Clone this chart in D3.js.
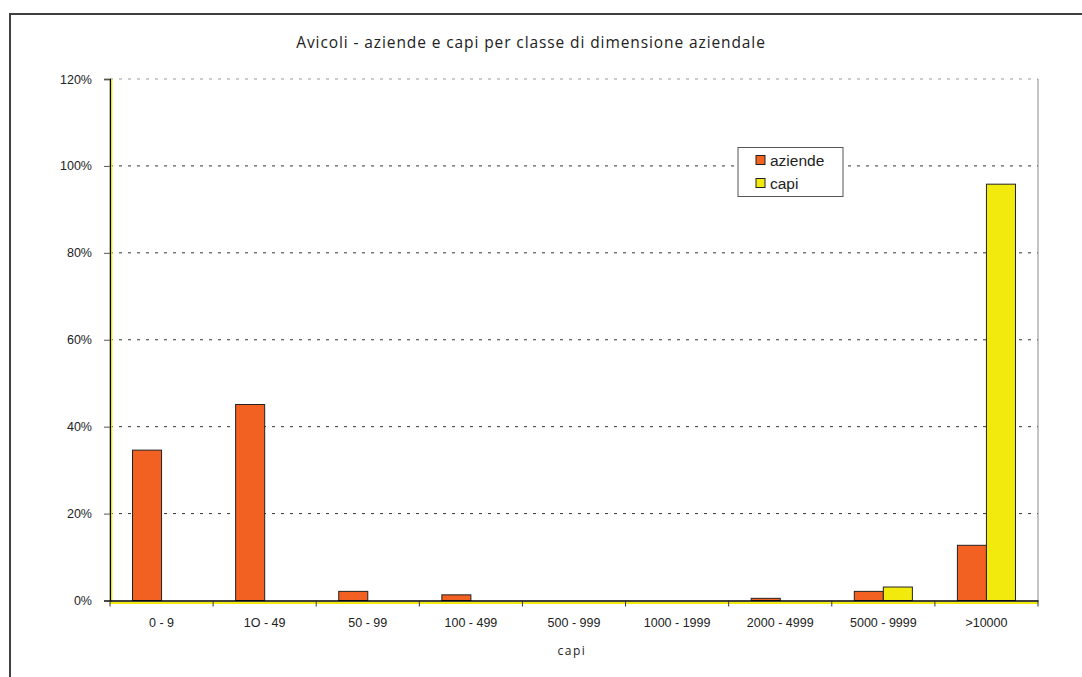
<!DOCTYPE html>
<html><head><meta charset="utf-8">
<script src="https://cdn.jsdelivr.net/npm/d3@7"></script>
<style>body{margin:0;background:#fff}svg{display:block}</style>
</head><body>
<svg id="c" width="1082" height="677"></svg>
<script>
const categories = ["0 - 9","1O - 49","50 - 99","100 - 499","500 - 999","1000 - 1999","2000 - 4999","5000 - 9999",">10000"];
const aziende = [34.6, 45.1, 2.1, 1.3, 0, 0, 0.5, 2.1, 12.7];
const capi = [0, 0, 0, 0, 0, 0, 0, 3.1, 95.8];
const seriesNames = ["aziende","capi"];
const yTicks = [0,20,40,60,80,100,120];
const colors = ["#F26122","#F2EA0C"];

const svg = d3.select("#c");
const L = 110, R = 1038, T = 79, B = 600.5;

// outer frame
svg.append("rect").attr("x",10).attr("y",14).attr("width",1090).attr("height",700)
  .attr("fill","none").attr("stroke","#404040").attr("stroke-width",2);

const x = d3.scaleBand().domain(categories).range([L,R]).paddingInner(0).paddingOuter(0);
const y = d3.scaleLinear().domain([0,120]).range([B,T]);

// gridlines
svg.append("g").selectAll("line").data(yTicks.filter(d=>d>0)).join("line")
  .attr("x1",L).attr("x2",R).attr("y1",d=>y(d)).attr("y2",d=>y(d))
  .attr("stroke",d=>d===120?"#999":"#333").attr("stroke-width",1)
  .attr("stroke-dasharray","3,6");

// right border
svg.append("line").attr("x1",R).attr("x2",R).attr("y1",T).attr("y2",B)
  .attr("stroke","#888").attr("stroke-width",1);

// bars
const bw = x.bandwidth();
const barW = bw/3.55;
const off = (bw - 2*barW)/2;
const data = categories.map((c,i)=>({c, vals:[aziende[i],capi[i]]}));
const g = svg.append("g");
data.forEach(d=>{
  d.vals.forEach((v,j)=>{
    if (v<=0) return;
    g.append("rect")
      .attr("x", x(d.c)+off+j*barW)
      .attr("y", y(v))
      .attr("width", barW)
      .attr("height", B - y(v))
      .attr("fill", colors[j])
      .attr("stroke","#222").attr("stroke-width",1);
  });
});

// y axis
const yAxis = d3.axisLeft(y).tickValues(yTicks).tickFormat(d=>d+"%").tickSize(6).tickPadding(12);
const ya = svg.append("g").attr("transform",`translate(${L},0)`).call(yAxis);
ya.select(".domain").attr("stroke","#000").attr("stroke-width",1.5);
ya.selectAll(".tick line").attr("stroke","#555");
ya.selectAll("text").attr("font-family","Liberation Sans, Arial, sans-serif").attr("font-size",12.5).attr("fill","#222");
svg.append("line").attr("x1",L+1.8).attr("x2",L+1.8).attr("y1",T).attr("y2",B).attr("stroke","#F2EA0C").attr("stroke-width",1.2);

// x axis
const xAxis = d3.axisBottom(x).tickSize(0).tickPadding(18);
const xa = svg.append("g").attr("transform",`translate(0,${B})`).call(xAxis);
xa.select(".domain").attr("stroke","#000").attr("stroke-width",1.5);
xa.selectAll("text").attr("font-family","Liberation Sans, Arial, sans-serif").attr("font-size",12.5).attr("fill","#222");
svg.append("line").attr("x1",L).attr("x2",R).attr("y1",B+2.5).attr("y2",B+2.5).attr("stroke","#F2EA0C").attr("stroke-width",2);
// category boundary ticks
const bounds = categories.map(c=>x(c)).concat([R]);
svg.append("g").selectAll("line").data(bounds).join("line")
  .attr("x1",d=>d).attr("x2",d=>d).attr("y1",B).attr("y2",B+6)
  .attr("stroke","#333").attr("stroke-width",1);

// title
svg.append("text").attr("x",531).attr("y",48).attr("text-anchor","middle")
  .attr("font-family","Open Sans, sans-serif").attr("font-size",15.5).attr("letter-spacing",0.9).attr("fill","#222")
  .text("Avicoli - aziende e capi per classe di dimensione aziendale");

// x axis title
svg.append("text").attr("x",572).attr("y",655).attr("text-anchor","middle")
  .attr("font-family","Open Sans, sans-serif").attr("font-size",12).attr("letter-spacing",1.5).attr("fill","#222")
  .text("capi");

// legend
const lg = svg.append("g");
lg.append("rect").attr("x",738).attr("y",147.5).attr("width",105).attr("height",49)
  .attr("fill","#fff").attr("stroke","#555").attr("stroke-width",1);
seriesNames.forEach((s,i)=>{
  const yy = 160 + i*23;
  lg.append("rect").attr("x",756).attr("y",yy-4.5).attr("width",9).attr("height",9)
    .attr("fill",colors[i]).attr("stroke","#222").attr("stroke-width",1);
  lg.append("text").attr("x",770).attr("y",yy+5.5).attr("font-family","Liberation Sans, Arial, sans-serif")
    .attr("font-size",15.5).attr("fill","#222").text(s);
});
</script>
</body></html>
